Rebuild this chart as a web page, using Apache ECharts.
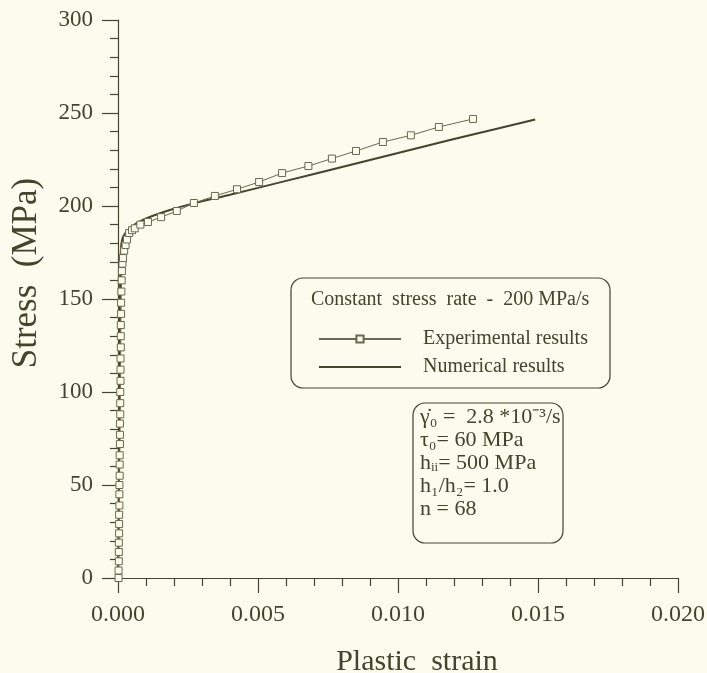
<!DOCTYPE html>
<html>
<head>
<meta charset="utf-8">
<script src="https://cdn.jsdelivr.net/npm/echarts@6/dist/echarts.min.js"></script>
<style>
html,body{margin:0;padding:0;background:#fcfcee;}
#chart{width:707px;height:673px;}
</style>
</head>
<body>
<div id="chart"></div>
<script>
// Experimental results: [plastic strain, stress MPa]
const expStrain = [0.00002,0.00002,0.00003,0.00003,0.00003,0.00004,0.00004,0.00004,0.00005,0.00005,0.00005,0.00006,0.00006,0.00006,0.00007,0.00007,0.00007,0.00008,0.00008,0.00008,0.00009,0.00009,0.00009,0.0001,0.0001,0.0001,0.00011,0.00011,0.00012,0.00013,0.00014,0.00016,0.00018,0.00022,0.00027,0.00032,0.0004,0.0005,0.0006,0.0008,0.00107,0.00154,0.0021,0.00271,0.00346,0.00425,0.00504,0.00586,0.0068,0.00764,0.0085,0.00946,0.01046,0.01146,0.01268];
const expStress = [0,4,9,14,19,24,29,34,39,45,50,55,61,66,72,77,83,88,94,100,106,112,118,124,130,136,142,148,154,160,165,169,172,176,179,182,185.5,187,188,190,191.4,194,197.3,201.6,205.4,209,212.9,217.7,221.5,225.5,229.6,234.4,238,242.5,246.8];
// Numerical results
const numStrain = [0,0.00003,0.00005,0.00007,0.00009,0.00011,0.00015,0.0002,0.0003,0.0005,0.0008,0.0012,0.002,0.003,0.004,0.006,0.008,0.010,0.012,0.0149];
const numStress = [0,50,100,150,170,178,182,184,186,189,191.8,194.5,198.5,202.5,206,213.5,221,228.5,236,246.5];

const seriesNames = ['Experimental results','Numerical results'];
const legendTitle = 'Constant  stress  rate  -  200 MPa/s';
const paramLines = ['γ̇₀ =  2.8 *10⁻³/s','τ₀= 60 MPa','hᵢᵢ= 500 MPa','h₁/h₂= 1.0','n = 68'];

const ink = '#46432d';
const serif = '"Liberation Serif","Times New Roman",serif';

const chart = echarts.init(document.getElementById('chart'));
chart.setOption({
  backgroundColor: '#fcfcee',
  animation: false,
  grid: {left: 118, top: 20, right: 29, bottom: 95, containLabel: false, outerBoundsMode: 'none'},
  xAxis: {
    type: 'value', min: 0, max: 0.02, interval: 0.005,
    name: 'Plastic  strain', nameLocation: 'middle', nameGap: 69,
    nameTextStyle: {fontFamily: serif, fontSize: 30, color: ink, padding: [0,0,0,38]},
    axisLine: {lineStyle: {color: ink, width: 1.2}},
    axisTick: {inside: false, length: 15, lineStyle: {color: ink, width: 1.2}},
    minorTick: {show: true, splitNumber: 5, length: 8, lineStyle: {color: ink, width: 1.2}},
    axisLabel: {fontFamily: serif, fontSize: 24, color: ink, margin: 25, formatter: v => v.toFixed(3)},
    splitLine: {show: false}
  },
  yAxis: {
    type: 'value', min: 0, max: 300, interval: 50,
    name: 'Stress  (MPa)', nameLocation: 'middle', nameGap: 74,
    nameTextStyle: {fontFamily: serif, fontSize: 35, color: ink, padding: [0,0,0,52]},
    axisLine: {show: true, lineStyle: {color: ink, width: 1.2}},
    axisTick: {show: true, inside: false, length: 16, lineStyle: {color: ink, width: 1.2}},
    minorTick: {show: true, splitNumber: 5, length: 8, lineStyle: {color: ink, width: 1.2}},
    axisLabel: {fontFamily: serif, fontSize: 23, color: ink, margin: 25},
    splitLine: {show: false}
  },
  legend: {
    orient: 'vertical', left: 313, top: 324,
    itemWidth: 82, itemHeight: 9, itemGap: 8,
    textStyle: {fontFamily: serif, fontSize: 20, color: ink, padding: [0,0,0,17]},
    data: [
      {name: seriesNames[0]},
      {name: seriesNames[1], itemStyle: {opacity: 0}}
    ]
  },
  series: [
    {
      name: seriesNames[0], type: 'line',
      data: expStrain.map((x, i) => [x, expStress[i]]),
      symbol: 'rect', symbolSize: 7,
      itemStyle: {color: '#fcfcee', borderColor: '#6b6850', borderWidth: 1},
      lineStyle: {color: '#6b6850', width: 1},
      z: 3
    },
    {
      name: seriesNames[1], type: 'line',
      data: numStrain.map((x, i) => [x, numStress[i]]),
      showSymbol: false, symbol: 'none', smooth: 0.2,
      itemStyle: {color: ink},
      lineStyle: {color: ink, width: 2},
      z: 2
    }
  ],
  graphic: [
    {type: 'rect', shape: {x: 291, y: 278, width: 319, height: 110, r: 12},
     style: {fill: 'rgba(0,0,0,0)', stroke: ink, lineWidth: 1.2}, z: 10},
    {type: 'text', x: 311, y: 300,
     style: {text: legendTitle, font: '20px ' + serif, fill: ink, textVerticalAlign: 'middle'}, z: 10},
    {type: 'rect', shape: {x: 413, y: 403, width: 150, height: 140, r: 12},
     style: {fill: 'rgba(0,0,0,0)', stroke: ink, lineWidth: 1.2}, z: 10},
    {type: 'text', x: 420, y: 406,
     style: {text: paramLines.join('\n'), font: '22px ' + serif, fill: ink, lineHeight: 23}, z: 10}
  ]
});
</script>
</body>
</html>
